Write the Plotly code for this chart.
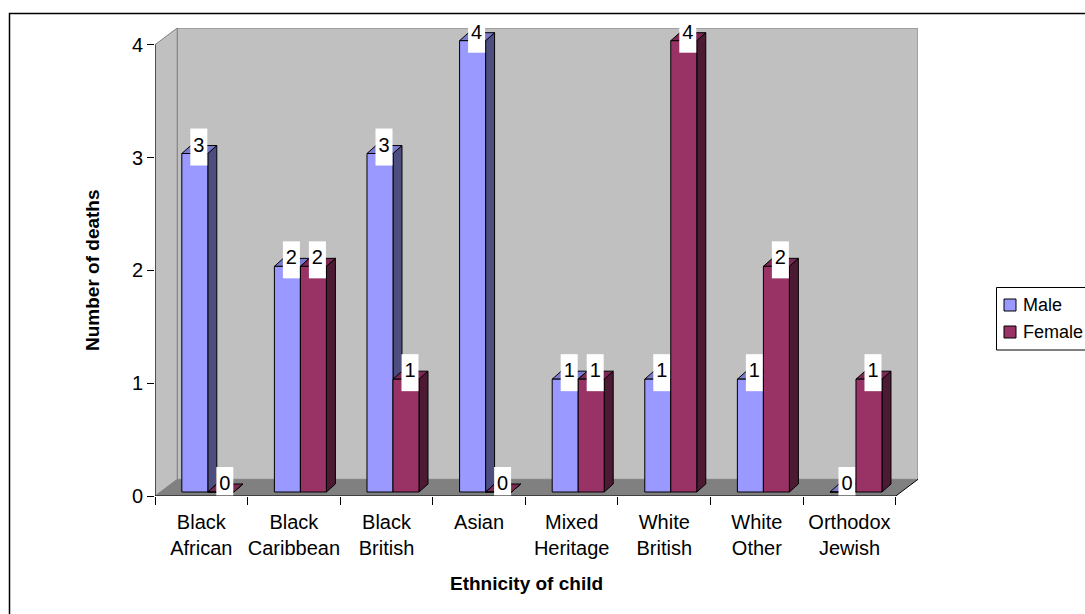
import plotly.graph_objects as go

# ---- data -------------------------------------------------------------
categories = ["Black<br>African", "Black<br>Caribbean", "Black<br>British", "Asian",
              "Mixed<br>Heritage", "White<br>British", "White<br>Other", "Orthodox<br>Jewish"]
male = [3, 2, 3, 4, 1, 1, 1, 0]
female = [0, 2, 1, 0, 1, 4, 2, 1]
series_names = ["Male", "Female"]
y_ticks = [0, 1, 2, 3, 4]

# ---- style ------------------------------------------------------------
FONT = "Liberation Sans, Arial, sans-serif"
W, H = 1085, 614
M_L, M_R, M_T, M_B = 155, 167, 28, 118
PLOT_W, PLOT_H = W - M_L - M_R, H - M_T - M_B

N = len(categories)
YMAX = max(y_ticks)
DEPTH_X, DEPTH_Y = 0.24, 0.148            # wall depth in axis units
X_RANGE = [-0.5, N - 0.5 + DEPTH_X]
Y_RANGE = [0, YMAX + DEPTH_Y]
PX_X = PLOT_W / (X_RANGE[1] - X_RANGE[0])  # pixels per x unit
PX_Y = PLOT_H / (Y_RANGE[1] - Y_RANGE[0])  # pixels per y unit

BAR_W = 26 / PX_X
FRONT_DX, FRONT_DY = 6.5 / PX_X, 4 / PX_Y   # bar front plane offset
BACK_DX, BACK_DY = 15.5 / PX_X, 12 / PX_Y   # bar back plane offset

COLORS = [
    dict(front="#9999FF", top="#7A7ACC", side="#4D4D80"),
    dict(front="#993366", top="#7A2952", side="#4D1A33"),
]

fig = go.Figure()


def face(xs, ys, color):
    fig.add_trace(go.Scatter(
        x=xs + [xs[0]], y=ys + [ys[0]], mode="lines", fill="toself",
        fillcolor=color, line=dict(color="black", width=1),
        hoverinfo="skip", showlegend=False))


def value_label(xc, top, v):
    bw = 17 / PX_X
    y0, y1 = top - 12 / PX_Y, top + 25 / PX_Y
    fig.add_trace(go.Scatter(
        x=[xc - bw / 2, xc + bw / 2, xc + bw / 2, xc - bw / 2, xc - bw / 2],
        y=[y0, y0, y1, y1, y0], mode="lines", fill="toself",
        fillcolor="white", line=dict(width=0), hoverinfo="skip", showlegend=False))
    fig.add_trace(go.Scatter(
        x=[xc], y=[top + 7 / PX_Y], mode="text", text=[str(v)],
        textposition="middle center", cliponaxis=False,
        textfont=dict(family=FONT, size=20, color="black"),
        hoverinfo="skip", showlegend=False))


# ---- 3D bars, painted left to right, male then female ----------------
for i in range(N):
    for s, vals in enumerate([male, female]):
        v = vals[i]
        c = COLORS[s]
        left = i - BAR_W + s * BAR_W + FRONT_DX
        right = left + BAR_W
        ddx = BACK_DX - FRONT_DX
        top_f = v + FRONT_DY
        top_b = v + BACK_DY
        # side face
        face([right, right + ddx, right + ddx, right],
             [FRONT_DY, BACK_DY, top_b, top_f], c["side"])
        # top face
        face([left, right, right + ddx, left + ddx],
             [top_f, top_f, top_b, top_b], c["top"])
        # front face
        face([left, right, right, left],
             [FRONT_DY, FRONT_DY, top_f, top_f], c["front"])
        value_label((left + right) / 2 + 4 / PX_X, top_f, v)

# ---- walls and floor ------------------------------------------------
x0, x1 = -0.5, N - 0.5
shapes = [
    # back wall
    dict(type="rect", xref="x", yref="y", x0=x0 + DEPTH_X, x1=x1 + DEPTH_X,
         y0=DEPTH_Y, y1=YMAX + DEPTH_Y, fillcolor="#C0C0C0",
         line=dict(color="#808080", width=1), layer="below"),
    # side wall
    dict(type="path", xref="x", yref="y",
         path=f"M {x0},0 L {x0},{YMAX} L {x0 + DEPTH_X},{YMAX + DEPTH_Y} L {x0 + DEPTH_X},{DEPTH_Y} Z",
         fillcolor="#C0C0C0", line=dict(color="#808080", width=1), layer="below"),
    # floor
    dict(type="path", xref="x", yref="y",
         path=f"M {x0},0 L {x1},0 L {x1 + DEPTH_X},{DEPTH_Y} L {x0 + DEPTH_X},{DEPTH_Y} Z",
         fillcolor="#808080", line=dict(width=0), layer="below"),
    # floor right edge
    dict(type="line", xref="x", yref="y", x0=x1, y0=0, x1=x1 + DEPTH_X, y1=DEPTH_Y,
         line=dict(color="black", width=1), layer="below"),
    # value axis line
    dict(type="line", xref="x", yref="y", x0=x0, y0=0, x1=x0, y1=YMAX,
         line=dict(color="black", width=1), layer="above"),
    # category axis line
    dict(type="line", xref="x", yref="y", x0=x0, y0=0, x1=x1, y1=0,
         line=dict(color="black", width=1), layer="above"),
]


def px_to_paper(px, py):
    return (px - M_L) / PLOT_W, (H - M_B - py) / PLOT_H


# chart border
bx0, by0 = px_to_paper(9.5, 13.5)
bx1, by1 = px_to_paper(1120, 650)
shapes.append(dict(type="rect", xref="paper", yref="paper", x0=bx0, y0=by1, x1=bx1, y1=by0,
                   line=dict(color="black", width=1.5), fillcolor="rgba(0,0,0,0)"))

# legend
lx0, ly0 = px_to_paper(996.5, 287.5)
lx1, ly1 = px_to_paper(1140, 350)
shapes.append(dict(type="rect", xref="paper", yref="paper", x0=lx0, y0=ly1, x1=lx1, y1=ly0,
                   line=dict(color="black", width=1), fillcolor="white"))
annotations = []
for k, name in enumerate(series_names):
    cy = 305 + 27 * k
    sx0, sy0 = px_to_paper(1004, cy - 6)
    sx1, sy1 = px_to_paper(1016, cy + 6)
    shapes.append(dict(type="rect", xref="paper", yref="paper", x0=sx0, y0=sy1, x1=sx1, y1=sy0,
                       line=dict(color="black", width=1), fillcolor=COLORS[k]["front"]))
    tx, ty = px_to_paper(1021, cy)
    annotations.append(dict(xref="paper", yref="paper", x=tx, y=ty, text=name,
                            showarrow=False, xanchor="left", yanchor="middle",
                            font=dict(family=FONT, size=18, color="black")))

# axis titles
ax, ay = px_to_paper(92, 270)
annotations.append(dict(xref="paper", yref="paper", x=ax, y=ay, text="<b>Number of deaths</b>",
                        textangle=-90, showarrow=False, xanchor="center", yanchor="middle",
                        font=dict(family=FONT, size=19, color="black")))
ax, ay = px_to_paper(526, 583)
annotations.append(dict(xref="paper", yref="paper", x=ax, y=ay, text="<b>Ethnicity of child</b>",
                        showarrow=False, xanchor="center", yanchor="middle",
                        font=dict(family=FONT, size=19, color="black")))

fig.update_layout(
    width=W, height=H,
    margin=dict(l=M_L, r=M_R, t=M_T, b=M_B, autoexpand=False),
    paper_bgcolor="white", plot_bgcolor="white",
    showlegend=False,
    shapes=shapes, annotations=annotations,
    xaxis=dict(range=X_RANGE, showgrid=False, zeroline=False, showline=False,
               tickvals=list(range(N)), ticktext=categories,
               ticks="outside", ticklen=8, tickcolor="rgba(0,0,0,0)",
               tickfont=dict(family=FONT, size=20, color="black"),
               minor=dict(tickvals=[k - 0.5 for k in range(N + 1)], ticks="outside",
                          ticklen=8, tickcolor="black", tickwidth=1, showgrid=False)),
    yaxis=dict(range=Y_RANGE, showgrid=False, zeroline=False, showline=False,
               tickvals=y_ticks, ticks="outside", ticklen=7, tickcolor="black",
               tickfont=dict(family=FONT, size=20, color="black")),
)

fig.write_html("out.html")
